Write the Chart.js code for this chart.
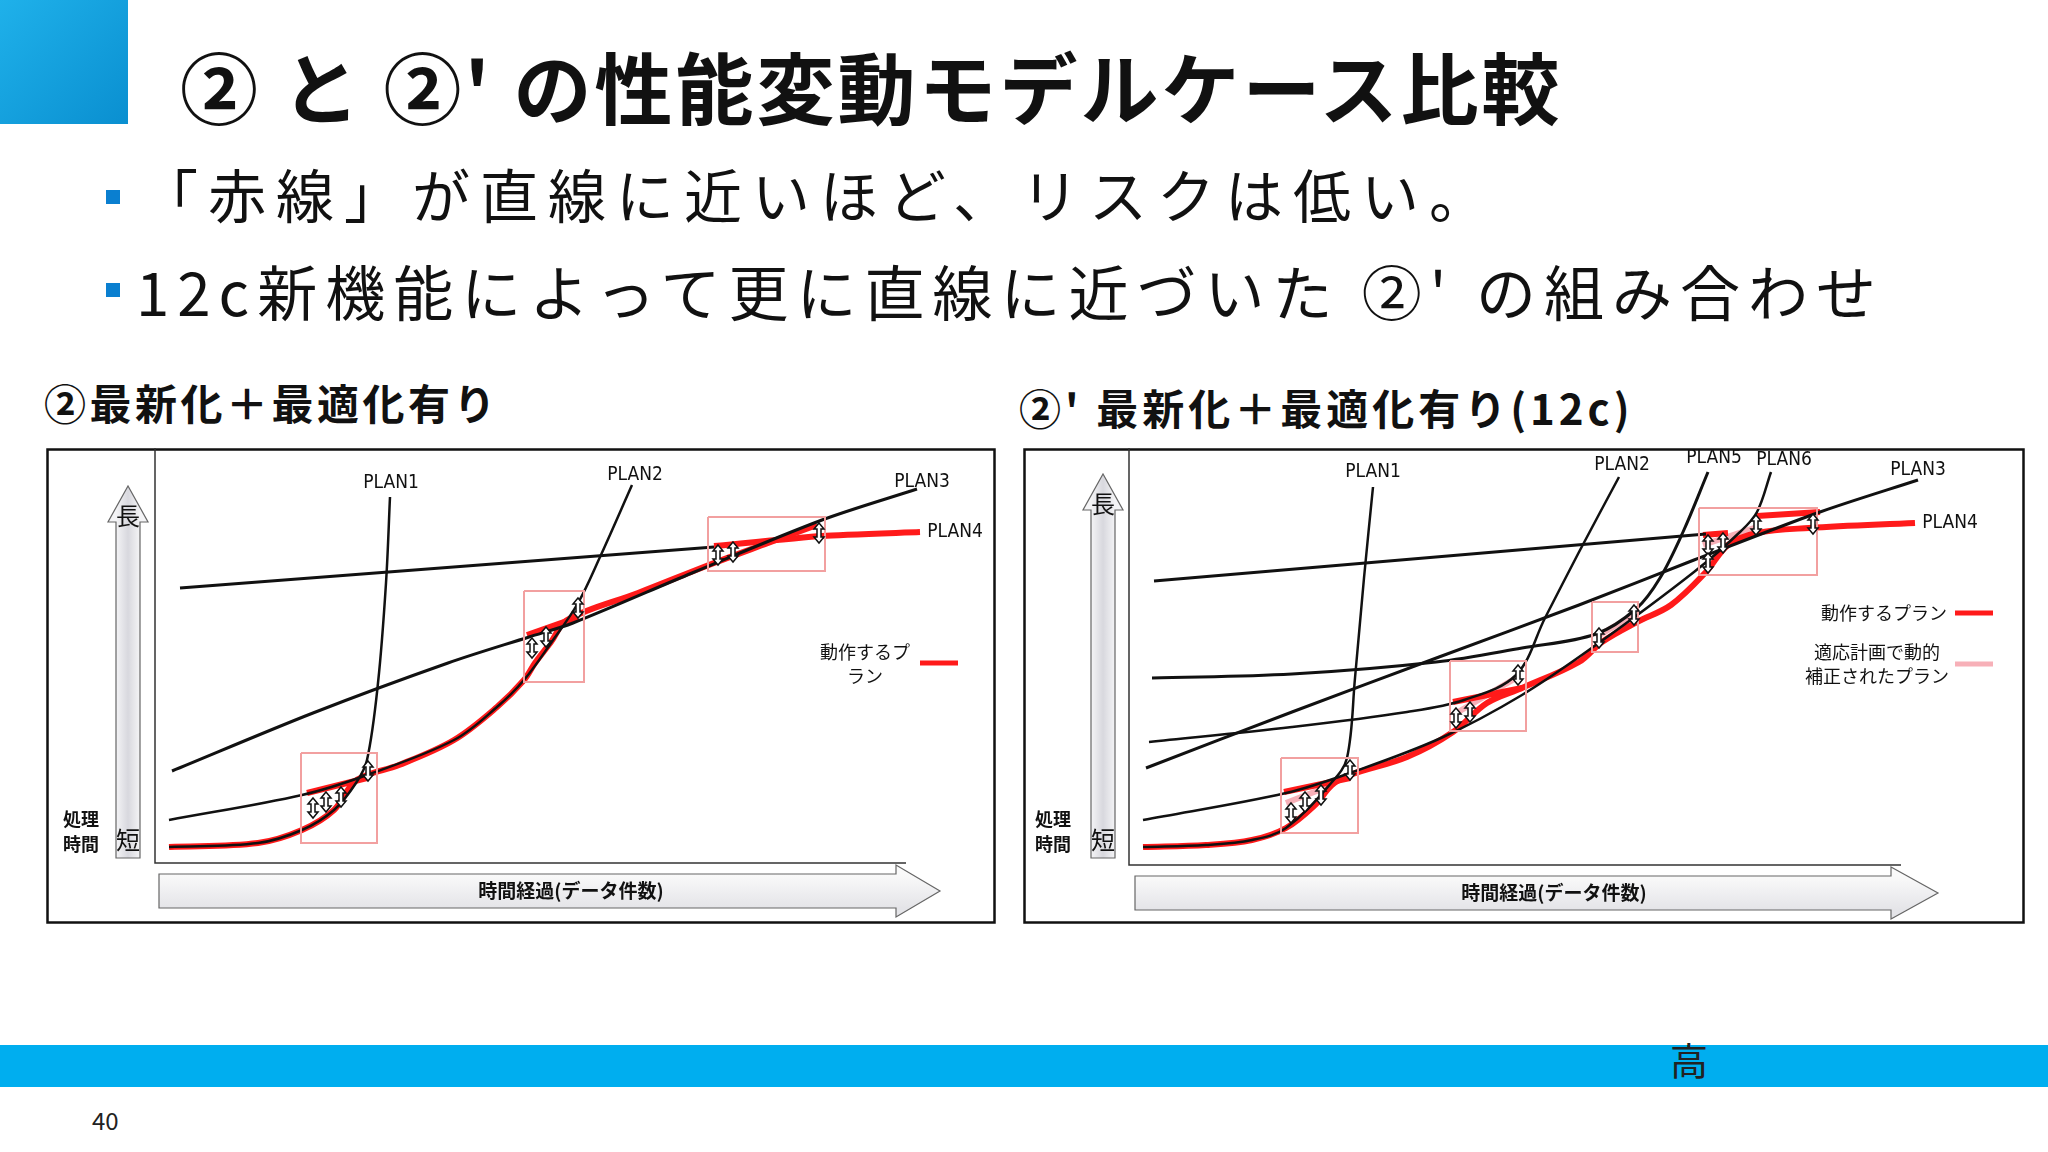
<!DOCTYPE html>
<html><head><meta charset="utf-8">
<script src="https://cdn.jsdelivr.net/npm/chart.js@4.4.0/dist/chart.umd.min.js"></script>
<style>
body{margin:0;width:2048px;height:1152px;background:#fff;position:relative;overflow:hidden;font-family:"Noto Sans CJK JP","Noto Sans",sans-serif;}
.abs{position:absolute;white-space:nowrap;}
canvas{position:absolute;}
</style></head><body>
<div class="abs" style="left:0;top:0;width:128px;height:124px;background:linear-gradient(135deg,#1fb1ea,#0a8fd0);"></div>
<div class="abs" style="left:180px;top:30px;font-size:78px;font-weight:700;color:#111;line-height:110px;letter-spacing:3px;">② と ②' の性能変動モデルケース比較</div>
<div class="abs" style="left:106px;top:190px;width:14px;height:14px;background:#0a7fd0;"></div>
<div class="abs" style="left:140px;top:155px;font-size:58px;color:#111;line-height:76px;letter-spacing:10px;">「赤線」が直線に近いほど、リスクは低い。</div>
<div class="abs" style="left:106px;top:283px;width:14px;height:14px;background:#0a7fd0;"></div>
<div class="abs" style="left:136px;top:252px;font-size:60px;color:#111;line-height:76px;letter-spacing:8px;">12c新機能によって更に直線に近づいた ②' の組み合わせ</div>
<div class="abs" style="left:44px;top:374px;font-size:42px;font-weight:700;color:#111;line-height:56px;letter-spacing:3.5px;">②最新化＋最適化有り</div>
<div class="abs" style="left:1019px;top:379px;font-size:42px;font-weight:700;color:#111;line-height:56px;letter-spacing:4px;">②' 最新化＋最適化有り(12c)</div>
<div class="abs" style="left:0;top:1045px;width:2048px;height:42px;background:#00aeef;"></div>
<div class="abs" style="left:1670px;top:1034px;font-size:38px;color:#222;line-height:50px;">高</div>
<div class="abs" style="left:92px;top:1106px;font-size:24px;color:#222;line-height:28px;">40</div>
<canvas id="c1" width="950" height="476" style="left:46px;top:448px;"></canvas>
<canvas id="c2" width="1002" height="476" style="left:1023px;top:448px;"></canvas>
<script>
// ---- Left panel (②) series: [x, y] in page pixel-space units
const L_plan4Black=[[180,588],[714,547]];
const L_plan3=[[172,771],[313,713],[448,663],[529,637],[573,623],[692,573],[822,520],[917,489]];
const L_plan2=[[169,820],[302,795],[367,775],[454,740],[497,707],[524,680],[551,643],[578,603],[600,557],[632,485]];
const L_plan1=[[169,847],[258,843],[302,830],[334,810],[356,783],[367,760],[378,683],[386,583],[390,497]];
const L_red=[[169,847],[258,843],[302,830],[334,810],[353,783],[367,775],[399,765],[454,740],[497,707],[524,680],[535,663],[551,642],[567,620],[638,593],[714,563],[768,543],[817,525]];
const L_redPlan4=[[714,546],[822,536],[920,532]];
const L_redSegs=[[[307,793],[367,778]],[[527,635],[578,617]]];
const L_boxes=[[301,753,377,843],[524,591,584,682],[708,517,825,571]];
const L_marks=[[313,808],[326,802],[341,797],[368,771],[532,648],[546,637],[578,608],[718,555],[733,552],[819,533]];
const L_labels=[["PLAN1",391,483],["PLAN2",635,475],["PLAN3",922,482],["PLAN4",955,532]];
// ---- Right panel (②') series
const R_lineA=[[1154,581],[1706,534]];
const R_plan3=[[1146,768],[1292,712],[1439,657],[1579,605],[1694,560],[1820,512],[1918,480]];
const R_plan5=[[1152,678],[1292,674],[1436,662],[1522,648],[1596,634],[1637,608],[1660,578],[1683,532],[1708,472]];
const R_plan2=[[1149,742],[1292,727],[1407,712],[1464,700],[1516,675],[1545,618],[1579,552],[1619,477]];
const R_plan6=[[1143,820],[1286,793],[1350,773],[1441,738],[1522,695],[1596,645],[1694,572],[1740,532],[1757,512],[1771,472]];
const R_plan1=[[1143,847],[1206,845],[1252,840],[1286,828],[1332,782],[1347,758],[1355,678],[1364,578],[1373,487]];
const R_red=[[1143,847],[1206,845],[1252,840],[1286,828],[1315,805],[1332,785],[1350,775],[1407,757],[1453,732],[1487,703],[1522,688],[1579,662],[1602,642],[1637,622],[1671,605],[1706,572],[1728,545],[1757,533],[1809,528],[1915,523]];
const R_redSegs=[[[1284,792],[1350,778]],[[1453,702],[1522,688]],[[1703,535],[1728,533]],[[1757,516],[1820,512]]];
const R_pinkSegs=[[[1286,803],[1332,785]],[[1453,715],[1516,678]],[[1596,637],[1634,615]],[[1703,545],[1757,527]]];
const R_boxes=[[1281,758,1358,833],[1450,661,1526,731],[1592,602,1638,652],[1699,508,1817,575]];
const R_marks=[[1291,813],[1305,802],[1321,795],[1350,770],[1456,718],[1470,712],[1518,675],[1599,638],[1634,615],[1708,545],[1723,543],[1708,563],[1756,525],[1813,524]];
const R_labels=[["PLAN1",1373,472],["PLAN2",1622,465],["PLAN5",1714,458],["PLAN6",1784,460],["PLAN3",1918,470],["PLAN4",1950,523]];

const pts=a=>a.map(p=>({x:p[0],y:p[1]}));
function line(a,color,w,t){return {data:pts(a),borderColor:color,borderWidth:w,showLine:true,pointRadius:0,tension:t,fill:false};}
function boxDs(b){return line([[b[0],b[1]],[b[2],b[1]],[b[2],b[3]],[b[0],b[3]],[b[0],b[1]]],'#f2a0a0',2,0);}

function deco(cfg){return {id:'deco',
 beforeDatasetsDraw(ch){const c=ch.ctx,xs=ch.scales.x,ys=ch.scales.y,X=v=>xs.getPixelForValue(v),Y=v=>ys.getPixelForValue(v);
  c.save();c.fillStyle='#fff';c.fillRect(0,0,ch.width,ch.height);
  c.strokeStyle='#111';c.lineWidth=2.5;c.strokeRect(1.5,1.5,ch.width-3,ch.height-3);
  c.strokeStyle='#333';c.lineWidth=1.5;c.beginPath();c.moveTo(X(cfg.ax),Y(cfg.top));c.lineTo(X(cfg.ax),Y(cfg.ay));c.lineTo(X(cfg.axEnd),Y(cfg.ay));c.stroke();
  const va=cfg.va;let g=c.createLinearGradient(X(va.x0),0,X(va.x1),0);g.addColorStop(0,'#f4f4f6');g.addColorStop(.5,'#d8d8de');g.addColorStop(1,'#f4f4f6');
  c.fillStyle=g;c.strokeStyle='#666';c.lineWidth=1.2;c.beginPath();
  c.moveTo(X(va.x0),Y(va.bot));c.lineTo(X(va.x0),Y(va.hb));c.lineTo(X(va.x0-8),Y(va.hb));c.lineTo(X((va.x0+va.x1)/2),Y(va.tip));c.lineTo(X(va.x1+8),Y(va.hb));c.lineTo(X(va.x1),Y(va.hb));c.lineTo(X(va.x1),Y(va.bot));c.closePath();c.fill();c.stroke();
  const ha=cfg.ha;g=c.createLinearGradient(0,Y(ha.y0),0,Y(ha.y1));g.addColorStop(0,'#fafafa');g.addColorStop(1,'#e4e4e8');
  c.fillStyle=g;c.beginPath();c.moveTo(X(ha.x0),Y(ha.y0));c.lineTo(X(ha.hx),Y(ha.y0));c.lineTo(X(ha.hx),Y(ha.y0-9));c.lineTo(X(ha.tip),Y((ha.y0+ha.y1)/2));c.lineTo(X(ha.hx),Y(ha.y1+9));c.lineTo(X(ha.hx),Y(ha.y1));c.lineTo(X(ha.x0),Y(ha.y1));c.closePath();c.fill();c.stroke();
  c.fillStyle='#111';c.textAlign='center';c.textBaseline='middle';
  c.font='bold 19px "Noto Sans CJK JP"';c.fillText('時間経過(データ件数)',X(ha.tx),Y((ha.y0+ha.y1)/2));
  c.font='24px "Noto Sans CJK JP"';c.fillText('長',X((va.x0+va.x1)/2),Y(va.tip+30));c.fillText('短',X((va.x0+va.x1)/2),Y(va.bot-18));
  c.font='bold 18px "Noto Sans CJK JP"';c.fillText('処理',X(cfg.px),Y(819));c.fillText('時間',X(cfg.px),Y(844));
  c.restore();},
 afterDatasetsDraw(ch){const c=ch.ctx,xs=ch.scales.x,ys=ch.scales.y,X=v=>xs.getPixelForValue(v),Y=v=>ys.getPixelForValue(v);
  c.save();
  cfg.marks.forEach(m=>{const x=X(m[0]),y=Y(m[1]);c.fillStyle='#fff';c.strokeStyle='#111';c.lineWidth=1.5;c.beginPath();
   c.moveTo(x,y-10);c.lineTo(x+5,y-4);c.lineTo(x+2,y-4);c.lineTo(x+2,y+4);c.lineTo(x+5,y+4);c.lineTo(x,y+10);c.lineTo(x-5,y+4);c.lineTo(x-2,y+4);c.lineTo(x-2,y-4);c.lineTo(x-5,y-4);c.closePath();c.fill();c.stroke();});
  c.fillStyle='#111';c.textAlign='center';c.textBaseline='middle';c.font='19px "Liberation Sans Narrow","DejaVu Sans Condensed",sans-serif';
  cfg.labels.forEach(l=>c.fillText(l[0],X(l[1]),Y(l[2])));
  c.font='18px "Noto Sans CJK JP"';
  cfg.legend.forEach(t=>{c.textAlign=t.align||'center';c.fillText(t.s,X(t.x),Y(t.y));});
  cfg.legLines.forEach(l=>{c.strokeStyle=l.c;c.lineWidth=5;c.beginPath();c.moveTo(X(l.x0),Y(l.y));c.lineTo(X(l.x1),Y(l.y));c.stroke();});
  c.restore();}};}

function make(id,L,R,ds,cfg){return new Chart(document.getElementById(id),{type:'scatter',data:{datasets:ds},
 options:{responsive:false,animation:false,devicePixelRatio:1,layout:{padding:0},plugins:{legend:{display:false},tooltip:{enabled:false}},
 scales:{x:{type:'linear',min:L,max:R,display:false},y:{type:'linear',min:448,max:924,reverse:true,display:false}}},plugins:[deco(cfg)]});}

const dsL=[...L_boxes.map(boxDs),line(L_plan4Black,'#111',3,0),line(L_plan3,'#111',3,0.3),line(L_plan2,'#111',2.5,0.35),line(L_plan1,'#111',2.5,0.35),
 line(L_red,'#ff1a1a',6,0.35),line(L_redPlan4,'#ff1a1a',6,0.2),...L_redSegs.map(s=>line(s,'#ff1a1a',6,0))];
make('c1',46,996,dsL,{ax:155,top:448,ay:863,axEnd:906,va:{x0:116,x1:140,tip:486,hb:522,bot:858},ha:{x0:159,y0:874,y1:908,hx:896,tip:940,tx:571},px:81,
 marks:L_marks,labels:L_labels,legend:[{s:'動作するプ',x:865,y:652},{s:'ラン',x:865,y:676}],legLines:[{c:'#ff1a1a',x0:920,x1:958,y:663}]});

const dsR=[...R_boxes.map(boxDs),line(R_lineA,'#111',3,0),line(R_plan3,'#111',3,0.3),line(R_plan5,'#111',3,0.35),line(R_plan2,'#111',2.5,0.35),line(R_plan6,'#111',2.5,0.35),line(R_plan1,'#111',2.5,0.35),
 line(R_red,'#ff1a1a',6,0.35),...R_redSegs.map(s=>line(s,'#ff1a1a',6,0)),...R_pinkSegs.map(s=>line(s,'#f7b0b8',6,0))];
make('c2',1023,2025,dsR,{ax:1129,top:448,ay:865,axEnd:1901,va:{x0:1091,x1:1115,tip:474,hb:510,bot:858},ha:{x0:1135,y0:876,y1:910,hx:1891,tip:1938,tx:1554},px:1053,
 marks:R_marks,labels:R_labels,legend:[{s:'動作するプラン',x:1947,y:613,align:'right'},{s:'適応計画で動的',x:1877,y:652},{s:'補正されたプラン',x:1877,y:676}],
 legLines:[{c:'#ff1a1a',x0:1955,x1:1993,y:613},{c:'#f7b0b8',x0:1955,x1:1993,y:664}]});
</script></body></html>
